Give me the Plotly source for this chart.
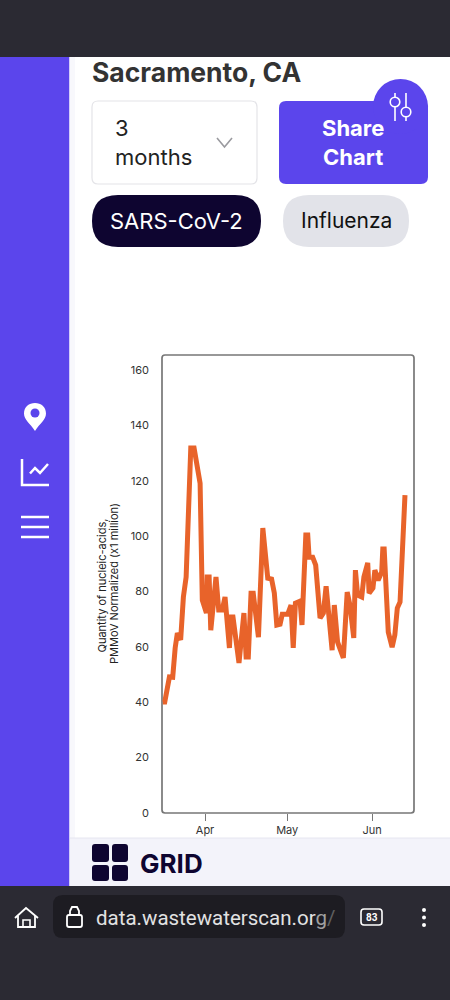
import pandas as pd
import plotly.graph_objects as go

# values: days counted from 1 Apr, y in millions
days_from_apr1 = [-15.4, -14.7, -13.0, -11.8, -10.9, -10.1, -8.9, -7.9, -6.9, -5.2, -4.0, -1.8, -1.0,
                  0.5, 0.8, 1.5, 2.1, 4.0, 5.0, 6.3, 7.3, 8.9, 9.5, 10.2, 12.4, 14.2, 15.0, 15.8,
                  16.8, 17.6, 19.5, 21.1, 22.9, 24.3, 25.3, 26.2, 27.4, 28.2, 30.2, 31.4, 32.2, 33.0,
                  34.7, 35.4, 36.8, 37.5, 38.0, 39.3, 40.4, 42.0, 43.2, 44.2, 46.4, 47.2, 48.4, 50.5,
                  51.9, 52.9, 54.3, 54.9, 55.7, 57.2, 58.0, 59.4, 59.9, 61.3, 62.0, 63.2, 64.5, 64.9,
                  65.4, 66.3, 66.9, 68.3, 69.3, 70.2, 71.2, 73.0]
quantity = [40.1, 40.1, 49.1, 49.0, 59.6, 65.0, 62.5, 78.0, 85.2, 131.8, 131.8, 119.1, 76.9,
            72.2, 85.2, 85.2, 66.0, 85.2, 73.3, 73.3, 78.0, 59.6, 70.8, 70.8, 54.2, 72.2, 56.3, 56.3,
            79.4, 79.4, 63.5, 102.9, 84.8, 84.5, 79.4, 67.9, 68.2, 71.8, 71.8, 75.1, 59.6, 75.8,
            76.5, 67.9, 100.4, 100.4, 92.4, 92.4, 89.5, 70.4, 72.2, 81.9, 58.8, 75.1, 61.7, 56.0,
            79.8, 75.1, 63.2, 87.7, 78.7, 78.0, 85.2, 90.3, 79.4, 81.2, 87.7, 84.1, 87.0, 95.3,
            95.3, 75.1, 65.3, 59.9, 64.3, 74.0, 76.2, 114.8]

y_ticks = [0, 20, 40, 60, 80, 100, 120, 140, 160]
x_tick_dates = ["2023-04-01", "2023-05-01", "2023-06-01"]
x_tick_labels = ["Apr", "May", "Jun"]

dates = pd.Timestamp("2023-04-01") + pd.to_timedelta(days_from_apr1, unit="D")

PURPLE = "#5B45EC"
DARK = "#2B2A33"
NAVY = "#0E0530"
GREY = "#777777"
W, H = 450, 1000


def px(x):
    return x / W


def py(y):
    return 1 - y / H


def to_path(points, close=False):
    s = "M " + " L ".join(f"{px(x):.5f},{py(y):.5f}" for x, y in points)
    return s + (" Z" if close else "")


def round_rect(x0, y0, x1, y1, r):
    p = lambda x, y: f"{px(x):.5f},{py(y):.5f}"
    return (f"M {p(x0 + r, y0)} L {p(x1 - r, y0)} Q {p(x1, y0)} {p(x1, y0 + r)} "
            f"L {p(x1, y1 - r)} Q {p(x1, y1)} {p(x1 - r, y1)} "
            f"L {p(x0 + r, y1)} Q {p(x0, y1)} {p(x0, y1 - r)} "
            f"L {p(x0, y0 + r)} Q {p(x0, y0)} {p(x0 + r, y0)} Z")


shapes = []


def box(x0, y0, x1, y1, fill, r=0, line=None, width=1):
    shapes.append(dict(type="path", path=round_rect(x0, y0, x1, y1, r), xref="paper", yref="paper",
                       fillcolor=fill, line=dict(color=line or fill, width=width if line else 0), layer="below"))


def stroke(points, color="white", width=2.5):
    shapes.append(dict(type="path", path=to_path(points), xref="paper", yref="paper",
                       line=dict(color=color, width=width), layer="below"))


def circle(cx, cy, r, fill, line=None, width=1.5):
    shapes.append(dict(type="circle", xref="paper", yref="paper", x0=px(cx - r), x1=px(cx + r),
                       y0=py(cy + r), y1=py(cy - r), fillcolor=fill,
                       line=dict(color=line or fill, width=width if line else 0), layer="below"))


annotations = []


def label(x, y, text, size, color, anchor="left", family="Inter", weight=None, angle=0):
    if weight:
        text = f"<b>{text}</b>"
    annotations.append(dict(x=px(x), y=py(y), xref="paper", yref="paper", text=text, showarrow=False,
                            xanchor=anchor, yanchor="middle", borderpad=0, borderwidth=0, textangle=angle,
                            font=dict(size=size, color=color, family=family)))


# page frame
box(0, 0, 450, 57, DARK)
box(0, 57, 69.5, 886, PURPLE)
box(69.5, 57, 75, 838, "#F8F8FC")
box(69.5, 838, 450, 886, "#F3F3FA")
stroke([(70, 838), (450, 838)], "#E6E6F0", 1)
box(0, 886, 450, 1000, DARK)

# header controls
label(92, 72, "Sacramento, CA", 26.5, "#333333", weight=True)
box(92, 101, 257, 184, "white", 6, "#E4E4E8", 1.2)
label(115, 128, "3", 22, "#222222")
label(115, 157, "months", 22, "#222222")
stroke([(217, 138), (224.5, 147), (232, 138)], "#9A9A9F", 1.6)

box(279, 101, 428, 184, PURPLE, 7)
circle(400.5, 106.5, 27.5, PURPLE)
label(353, 128, "Share", 22, "white", "center", weight=True)
label(353, 157, "Chart", 22, "white", "center", weight=True)
stroke([(395, 107), (395, 121)], "white", 1.6)
stroke([(395, 93), (395, 97)], "white", 1.6)
stroke([(406, 93), (406, 107)], "white", 1.6)
stroke([(406, 117), (406, 121)], "white", 1.6)
circle(395, 102, 4.8, "rgba(0,0,0,0)", "white", 1.6)
circle(406, 112, 4.8, "rgba(0,0,0,0)", "white", 1.6)

box(92, 195, 261, 247, NAVY, 26)
label(176, 221, "SARS-CoV-2", 22, "white", "center")
box(283, 195, 409, 247, "#E2E3E9", 26)
label(346, 221, "Influenza", 21, "#111111", "center")

# sidebar icons
p = lambda x, y: f"{px(x):.5f},{py(y):.5f}"
shapes.append(dict(type="path", xref="paper", yref="paper", fillcolor="white", line=dict(width=0), layer="below",
                   path=(f"M {p(35, 431)} C {p(30, 423)} {p(24, 420)} {p(24, 413.5)} "
                         f"C {p(24, 407)} {p(29, 403)} {p(35, 403)} C {p(41, 403)} {p(46, 407)} {p(46, 413.5)} "
                         f"C {p(46, 420)} {p(40, 423)} {p(35, 431)} Z")))
circle(35, 413, 4.5, PURPLE)
stroke([(22, 459), (22, 485), (49, 485)])
stroke([(30, 473.5), (35, 468), (40, 473), (48, 464)])
for hy in [517, 527, 537]:
    stroke([(21, hy), (49, hy)])

# footer logo
box(92, 844, 109, 862, NAVY, 3)
box(112, 844, 128, 862, NAVY, 3)
box(92, 865, 109, 881, NAVY, 3)
box(112, 865, 128, 881, NAVY, 3)
label(140, 863, "GRID", 26, NAVY, weight=True)

# browser bar
stroke([(15, 918), (26, 908), (38, 918)], "white", 1.8)
stroke([(18, 916), (18, 927), (35, 927), (35, 916)], "white", 1.8)
stroke([(23, 927), (23, 920), (30, 920), (30, 927)], "white", 1.6)
box(53, 895, 345, 938, "#1D1C22", 10)
box(67, 915, 82, 927, "rgba(0,0,0,0)", 2, "white", 1.8)
stroke([(70, 915), (70, 911), (72, 907), (77, 907), (79, 911), (79, 915)], "white", 1.8)
label(96, 918, 'data.wastewaterscan.or<span style="color:#A0A0A0">g</span><span style="color:#606060">/</span>',
      20.5, "#E2E2E2", family="Roboto")
box(361, 909, 382, 925, "rgba(0,0,0,0)", 3, "white", 1.6)
label(371.5, 917, "83", 10, "white", "center", family="Roboto", weight=True)
for dy in [910, 917.5, 925]:
    circle(424, dy, 2, "white")

# chart frame
box(162, 355, 414, 813, "rgba(0,0,0,0)", 3, GREY, 1.7)
label(101.5, 586, "Quantity of nucleic-acids,", 11, "#222222", "center", angle=-90)
label(114, 584, "PMMoV Normalized (x1 million)", 11, "#222222", "center", angle=-90)

fig = go.Figure(go.Scatter(x=dates, y=quantity, mode="lines", hoverinfo="skip",
                           line=dict(color="#E8632A", width=5)))
fig.update_layout(
    width=W, height=H,
    margin=dict(l=0, r=0, t=0, b=0),
    paper_bgcolor="white",
    plot_bgcolor="rgba(0,0,0,0)",
    showlegend=False,
    font=dict(family="Inter", size=11, color="#333333"),
    shapes=shapes,
    annotations=annotations,
    xaxis=dict(domain=[px(162), px(414)], range=["2023-03-16 07:00", "2023-06-16 07:00"],
               tickvals=x_tick_dates, ticktext=x_tick_labels, ticks="outside", ticklen=7,
               tickwidth=1.2, tickcolor=GREY, showgrid=False, zeroline=False, showline=False,
               automargin=False, tickfont=dict(size=11, color="#333333")),
    yaxis=dict(domain=[py(813), py(355)], range=[0, 165.4], tickvals=y_ticks, ticks="",
               showgrid=False, zeroline=False, showline=False, ticklabelstandoff=12,
               automargin=False, tickfont=dict(size=11, color="#333333")),
)

fig.write_html("out.html", config=dict(displayModeBar=False),
               post_script="document.body.style.margin='0';document.body.style.overflow='hidden';")
